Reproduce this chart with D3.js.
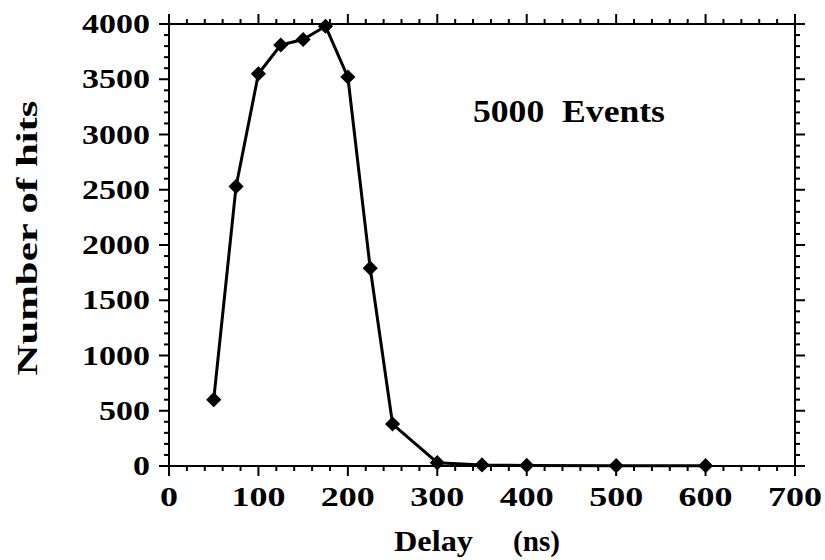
<!DOCTYPE html>
<html>
<head>
<meta charset="utf-8">
<script src="https://cdn.jsdelivr.net/npm/d3@7"></script>
<style>
  body { margin: 0; background: #fff; }
  svg text { font-family: "Liberation Serif", "Times New Roman", serif; font-weight: bold; fill: #000; }
</style>
</head>
<body>
<div id="chart"></div>
<script>
// data
var delay = [50, 75, 100, 125, 150, 175, 200, 225, 250, 300, 350, 400, 500, 600];
var hits = [600, 2530, 3550, 3810, 3860, 3980, 3520, 1790, 380, 30, 10, 5, 3, 3];
var xTicks = [0, 100, 200, 300, 400, 500, 600, 700];
var yTicks = [0, 500, 1000, 1500, 2000, 2500, 3000, 3500, 4000];

var width = 825, height = 560;
var plotLeft = 169, plotRight = 795, plotTop = 24, plotBottom = 466;

var svg = d3.select("#chart").append("svg")
    .attr("width", width)
    .attr("height", height);

var x = d3.scaleLinear().domain([0, 700]).range([plotLeft, plotRight]);
var y = d3.scaleLinear().domain([0, 4000]).range([plotBottom, plotTop]);

// frame
svg.append("rect")
    .attr("x", plotLeft).attr("y", plotTop)
    .attr("width", plotRight - plotLeft).attr("height", plotBottom - plotTop)
    .attr("fill", "none").attr("stroke", "#000").attr("stroke-width", 2);

// ticks, all pointing outward
var xMinor = d3.range(0, 701, 20);
var yMinor = d3.range(0, 4001, 100);

function isMajorX(v) { return v % 100 === 0; }
function isMajorY(v) { return v % 500 === 0; }

// bottom + top
[[plotBottom, 1], [plotTop, -1]].forEach(function(s) {
  svg.append("g").selectAll("line").data(xMinor).enter().append("line")
      .attr("x1", function(d) { return x(d); })
      .attr("x2", function(d) { return x(d); })
      .attr("y1", s[0])
      .attr("y2", function(d) { return s[0] + s[1] * (isMajorX(d) ? 10 : 5); })
      .attr("stroke", "#000").attr("stroke-width", 2);
});
// left + right
[[plotLeft, -1], [plotRight, 1]].forEach(function(s) {
  svg.append("g").selectAll("line").data(yMinor).enter().append("line")
      .attr("y1", function(d) { return y(d); })
      .attr("y2", function(d) { return y(d); })
      .attr("x1", s[0])
      .attr("x2", function(d) { return s[0] + s[1] * (isMajorY(d) ? 10 : 5); })
      .attr("stroke", "#000").attr("stroke-width", 2);
});

// tick labels
svg.append("g").selectAll("text").data(xTicks).enter().append("text")
    .attr("x", function(d) { return x(d); })
    .attr("y", 506)
    .attr("text-anchor", "middle")
    .attr("font-size", 28)
    .attr("textLength", function(d) { return String(d).length * 18; })
    .attr("lengthAdjust", "spacingAndGlyphs")
    .text(function(d) { return d; });

svg.append("g").selectAll("text").data(yTicks).enter().append("text")
    .attr("x", 150)
    .attr("y", function(d) { return y(d) + 9; })
    .attr("text-anchor", "end")
    .attr("font-size", 27)
    .attr("textLength", function(d) { return String(d).length * 17; })
    .attr("lengthAdjust", "spacingAndGlyphs")
    .text(function(d) { return d; });

// line + diamonds
var line = d3.line()
    .x(function(d, i) { return x(delay[i]); })
    .y(function(d) { return y(d); });

svg.append("path")
    .datum(hits)
    .attr("d", line)
    .attr("fill", "none")
    .attr("stroke", "#000")
    .attr("stroke-width", 3)
    .attr("stroke-linejoin", "round");

svg.append("g").selectAll("path").data(hits).enter().append("path")
    .attr("d", d3.symbol().type(d3.symbolSquare).size(115))
    .attr("transform", function(d, i) { return "translate(" + x(delay[i]) + "," + y(d) + ") rotate(45)"; })
    .attr("fill", "#000");

// annotation
svg.append("text")
    .attr("x", 473).attr("y", 122)
    .attr("font-size", 31)
    .attr("textLength", 192)
    .attr("lengthAdjust", "spacingAndGlyphs")
    .attr("xml:space", "preserve")
    .text("5000  Events");

// axis titles
svg.append("text")
    .attr("transform", "translate(37,238) rotate(-90)")
    .attr("text-anchor", "middle")
    .attr("font-size", 29)
    .attr("textLength", 275)
    .attr("lengthAdjust", "spacingAndGlyphs")
    .text("Number of hits");

svg.append("text")
    .attr("x", 394).attr("y", 551)
    .attr("font-size", 30)
    .attr("textLength", 79)
    .attr("lengthAdjust", "spacingAndGlyphs")
    .text("Delay");

svg.append("text")
    .attr("x", 513).attr("y", 551)
    .attr("font-size", 30)
    .attr("textLength", 47)
    .attr("lengthAdjust", "spacingAndGlyphs")
    .text("(ns)");
</script>
</body>
</html>
